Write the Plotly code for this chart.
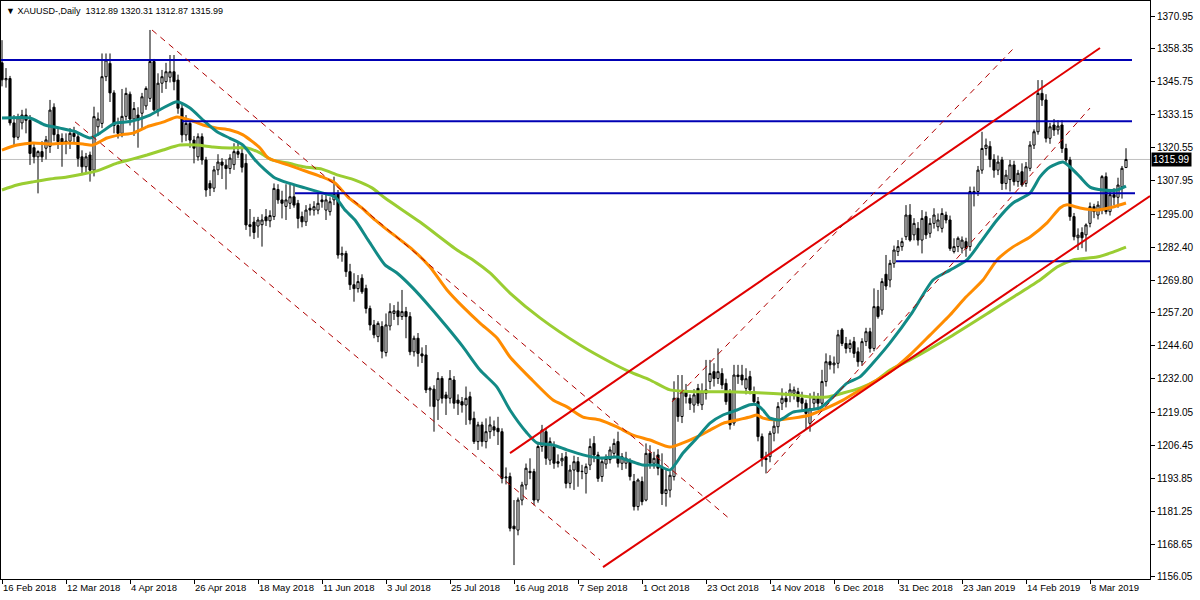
import plotly.graph_objects as go

# ---------------- data ----------------
open_ = [1353.0,1346.5,1347.0,1330.0,1324.5,1330.0,1333.0,1331.0,1320.5,1317.0,1319.0,1320.3,1321.0,1336.0,1325.5,1324.0,1323.0,1323.0,1326.0,1324.7,
1317.0,1313.2,1317.7,1311.9,1328.5,1329.8,1347.7,1352.8,1341.5,1329.0,1326.0,1332.5,1341.0,1331.5,1333.0,1333.7,1336.5,1339.4,1353.5,1335.0,
1345.2,1345.8,1347.5,1349.6,1346.4,1335.6,1325.4,1329.8,1323.4,1317.0,1324.7,1315.8,1306.8,1305.0,1312.0,1315.0,1313.8,1312.5,1314.0,1319.0,
1318.3,1314.5,1291.0,1292.0,1290.5,1291.0,1294.0,1292.5,1294.1,1304.5,1300.5,1298.0,1299.2,1301.7,1299.2,1294.1,1292.1,1297.3,1296.6,1296.6,
1300.5,1296.6,1296.0,1300.5,1303.0,1279.4,1280.0,1273.0,1268.0,1266.5,1270.5,1266.6,1258.9,1252.6,1248.1,1252.0,1242.0,1252.2,1257.0,1258.0,
1255.8,1257.7,1255.8,1242.3,1247.5,1241.5,1241.1,1227.7,1228.0,1223.8,1232.1,1225.8,1224.5,1231.5,1223.8,1223.2,1221.9,1225.1,1216.8,1207.9,
1214.3,1207.9,1211.7,1213.6,1213.0,1211.7,1194.0,1194.5,1175.5,1174.0,1185.5,1191.3,1196.5,1196.4,1185.5,1206.0,1211.7,1200.8,1206.0,1200.2,
1200.5,1202.1,1191.9,1197.0,1200.2,1196.4,1195.7,1198.9,1207.2,1202.8,1194.5,1199.3,1201.0,1203.4,1207.9,1199.6,1199.6,1200.2,1192.6,1183.0,
1192.6,1185.5,1203.4,1199.6,1202.8,1198.0,1188.0,1189.3,1194.5,1224.5,1217.5,1227.0,1224.5,1221.9,1228.3,1222.0,1226.4,1230.9,1234.7,1232.1,
1234.0,1230.2,1227.0,1215.0,1233.4,1233.4,1228.3,1232.8,1227.0,1223.2,1209.8,1201.5,1202.1,1211.1,1213.6,1222.6,1224.5,1225.8,1226.4,1227.0,
1224.5,1222.6,1214.9,1222.6,1224.5,1222.6,1230.9,1238.5,1237.3,1237.9,1250.7,1245.5,1243.6,1246.2,1242.3,1238.5,1246.2,1250.0,1243.6,1259.6,
1258.3,1272.0,1269.8,1276.2,1280.7,1282.6,1286.4,1294.7,1287.1,1289.6,1285.1,1294.1,1287.7,1291.5,1290.2,1289.6,1294.7,1292.8,1280.7,1282.6,
1282.0,1284.5,1282.6,1303.0,1303.7,1311.9,1320.2,1321.0,1316.0,1311.9,1315.8,1306.8,1308.3,1313.9,1307.5,1311.3,1306.8,1312.6,1321.5,1326.6,
1341.3,1338.8,1324.1,1329.2,1327.3,1329.2,1320.2,1315.8,1294.1,1286.0,1288.0,1287.1,1291.5,1297.9,1294.7,1296.5,1309.4,1296.0,1302.5,1301.5,
1305.5,1312.89]
high = [1361.7,1351.0,1348.0,1333.0,1333.5,1335.0,1335.5,1333.0,1322.0,1319.5,1323.0,1325.0,1338.8,1337.5,1328.0,1326.0,1326.0,1328.0,1328.5,1326.5,
1319.5,1318.5,1319.0,1336.2,1334.0,1356.6,1356.6,1356.6,1342.5,1332.0,1343.0,1343.5,1342.0,1338.0,1336.0,1341.5,1344.0,1365.6,1354.5,1349.0,
1350.3,1353.0,1356.0,1356.0,1348.5,1337.5,1333.0,1331.5,1325.0,1326.0,1326.0,1317.0,1308.0,1313.5,1318.0,1316.5,1316.0,1318.0,1322.2,1323.0,
1321.0,1318.0,1297.0,1294.0,1294.0,1295.0,1297.0,1296.5,1306.8,1306.5,1304.0,1306.5,1306.5,1306.5,1300.5,1296.0,1298.5,1299.0,1300.0,1303.7,
1302.5,1302.5,1301.5,1309.4,1304.3,1282.6,1281.0,1276.0,1272.4,1271.7,1272.0,1268.0,1260.0,1254.5,1254.0,1254.0,1257.0,1260.9,1260.2,1261.5,
1266.0,1259.5,1257.5,1248.5,1249.5,1244.0,1244.9,1229.0,1229.5,1234.5,1233.0,1227.0,1235.3,1233.0,1226.0,1225.0,1229.0,1227.0,1219.4,1215.5,
1215.5,1216.8,1217.5,1216.0,1217.4,1213.0,1198.0,1196.0,1185.5,1186.5,1192.5,1199.5,1201.5,1197.5,1207.5,1214.3,1213.0,1209.5,1208.0,1203.0,
1203.5,1204.0,1199.0,1202.5,1202.0,1199.0,1199.5,1209.1,1210.0,1204.0,1201.5,1203.0,1206.0,1209.0,1211.7,1203.5,1204.0,1201.5,1195.5,1193.8,
1194.5,1207.2,1206.5,1204.0,1205.0,1203.4,1197.0,1196.5,1231.0,1233.4,1233.4,1230.0,1226.0,1228.0,1230.0,1230.2,1239.2,1239.2,1237.9,1243.6,
1236.0,1232.0,1228.0,1237.3,1237.3,1237.3,1236.0,1235.0,1229.0,1225.0,1211.0,1204.0,1212.0,1216.0,1223.0,1228.3,1227.0,1230.2,1229.0,1228.5,
1227.0,1224.0,1226.4,1227.0,1226.5,1235.4,1241.7,1241.0,1240.5,1250.7,1251.4,1248.0,1247.0,1248.0,1244.0,1247.5,1251.5,1251.5,1266.6,1266.0,
1270.5,1279.4,1277.5,1283.0,1285.1,1286.0,1298.5,1298.9,1293.5,1292.0,1296.6,1296.0,1293.5,1297.3,1295.3,1297.3,1296.0,1294.5,1285.8,1286.5,
1286.5,1286.0,1305.6,1305.6,1313.5,1326.6,1324.0,1323.0,1318.0,1317.5,1317.0,1312.0,1315.8,1315.5,1312.0,1314.5,1315.0,1323.0,1327.5,1346.4,
1346.4,1341.0,1330.0,1331.5,1331.0,1331.0,1322.0,1317.0,1295.5,1289.6,1290.0,1291.5,1299.5,1299.0,1300.0,1310.0,1311.0,1304.0,1305.0,1309.0,
1313.5,1320.31]
low = [1344.0,1343.5,1329.0,1321.5,1323.5,1327.5,1326.0,1313.9,1314.5,1303.0,1315.0,1316.0,1318.5,1323.0,1320.0,1313.2,1318.0,1320.0,1322.0,1313.2,
1310.0,1311.0,1307.5,1309.5,1325.0,1328.0,1346.0,1338.0,1326.0,1324.0,1324.5,1331.0,1329.0,1325.0,1320.5,1328.0,1335.0,1338.0,1334.5,1332.5,
1341.5,1343.0,1345.5,1342.5,1333.5,1322.5,1323.0,1320.5,1314.5,1315.5,1314.0,1301.7,1302.0,1303.5,1310.0,1308.5,1304.5,1310.5,1312.0,1316.5,
1311.0,1289.0,1286.5,1285.5,1286.0,1282.6,1290.5,1290.0,1292.8,1299.0,1293.4,1292.8,1297.0,1297.5,1289.6,1290.0,1290.5,1294.5,1294.5,1295.0,
1297.5,1292.8,1294.5,1298.5,1278.0,1276.8,1271.0,1266.0,1261.5,1265.0,1264.5,1257.0,1250.5,1247.5,1246.0,1239.8,1240.5,1250.5,1254.5,1252.5,
1254.5,1247.5,1241.0,1240.5,1236.6,1238.0,1226.5,1221.3,1211.7,1216.2,1222.5,1218.1,1222.5,1220.5,1218.1,1219.0,1214.3,1214.5,1207.0,1204.7,
1206.0,1205.3,1209.0,1210.0,1206.6,1191.9,1191.5,1173.5,1160.6,1172.0,1183.5,1189.5,1193.5,1183.5,1184.5,1204.0,1199.0,1199.0,1197.5,1198.0,
1198.5,1190.0,1190.0,1189.4,1190.6,1193.5,1188.0,1197.0,1200.0,1192.5,1192.5,1197.5,1199.5,1202.0,1198.0,1197.0,1197.5,1193.0,1181.5,1181.5,
1183.5,1185.0,1197.5,1197.5,1195.0,1183.6,1183.0,1186.5,1193.0,1215.5,1215.0,1222.5,1220.0,1219.0,1221.5,1220.0,1224.0,1228.0,1229.0,1230.0,
1228.0,1222.0,1212.5,1214.0,1230.0,1229.5,1226.0,1226.0,1222.5,1208.0,1198.3,1195.7,1200.0,1208.0,1211.0,1220.0,1221.0,1223.0,1224.0,1221.0,
1219.5,1212.5,1211.7,1220.0,1220.0,1221.0,1229.0,1235.5,1234.0,1236.0,1244.5,1241.7,1242.0,1240.0,1236.6,1237.0,1244.5,1242.0,1242.5,1255.0,
1256.5,1266.0,1267.0,1274.5,1279.0,1281.0,1285.1,1284.5,1285.0,1283.0,1280.0,1285.5,1286.0,1289.5,1288.5,1288.0,1291.5,1281.0,1280.0,1280.5,
1280.0,1278.7,1281.0,1298.0,1302.0,1310.5,1317.5,1313.0,1309.0,1310.0,1304.3,1304.5,1303.7,1306.0,1305.5,1305.5,1305.5,1311.5,1320.0,1325.5,
1336.5,1322.5,1322.0,1325.0,1325.5,1318.5,1314.0,1292.5,1285.0,1281.3,1282.0,1280.7,1290.0,1293.5,1293.0,1295.0,1295.0,1294.5,1298.5,1297.5,
1301.0,1312.87]
close = [1346.5,1347.0,1330.0,1324.5,1332.0,1333.0,1331.0,1318.3,1317.0,1319.0,1317.0,1323.5,1334.9,1325.5,1322.8,1322.0,1322.5,1326.0,1324.8,1316.4,
1313.2,1317.0,1311.9,1332.4,1331.5,1347.7,1354.1,1341.5,1329.0,1326.0,1332.5,1341.3,1331.5,1335.5,1331.0,1340.0,1343.2,1353.5,1335.0,1345.2,
1347.7,1349.6,1349.6,1345.8,1335.6,1325.4,1329.8,1323.4,1320.3,1324.7,1315.8,1304.3,1305.0,1312.0,1315.0,1313.8,1312.5,1316.5,1319.0,1318.0,
1313.0,1290.9,1290.3,1288.0,1292.8,1292.8,1292.5,1294.5,1304.9,1300.5,1299.2,1300.5,1301.7,1298.5,1293.4,1292.1,1296.6,1296.6,1297.9,1299.2,
1299.8,1300.5,1299.8,1302.9,1279.4,1280.0,1273.0,1268.0,1266.5,1269.2,1265.3,1258.9,1252.6,1248.8,1253.2,1242.5,1252.6,1257.7,1258.0,1255.8,
1257.7,1255.8,1242.3,1247.5,1241.7,1240.7,1227.7,1228.3,1221.3,1232.1,1224.5,1224.5,1232.1,1222.6,1222.6,1221.9,1224.5,1216.2,1207.9,1214.3,
1207.9,1211.7,1214.3,1212.3,1211.7,1193.8,1194.3,1174.7,1174.5,1185.5,1191.3,1197.7,1196.0,1185.5,1206.0,1212.3,1201.5,1207.9,1199.6,1199.6,
1201.5,1191.9,1197.0,1200.2,1196.4,1196.5,1198.3,1206.0,1202.8,1193.8,1200.2,1201.5,1204.7,1207.2,1199.6,1202.1,1201.5,1194.5,1183.0,1193.2,
1184.9,1203.4,1199.6,1201.5,1197.7,1188.0,1189.5,1195.0,1224.5,1217.5,1227.0,1225.2,1222.6,1225.8,1222.6,1227.0,1227.7,1234.0,1232.1,1234.7,
1229.6,1223.2,1214.3,1233.4,1232.8,1231.5,1232.0,1227.7,1223.2,1209.8,1201.5,1201.0,1211.1,1213.8,1221.3,1224.5,1223.2,1227.7,1227.7,1223.2,
1222.6,1218.7,1220.6,1224.5,1222.6,1230.9,1238.5,1237.3,1238.0,1248.8,1245.5,1243.6,1245.5,1241.7,1238.5,1246.2,1250.0,1243.6,1259.6,1255.8,
1269.2,1267.5,1276.2,1281.3,1282.6,1284.5,1294.7,1285.1,1291.5,1285.1,1293.4,1287.1,1291.5,1294.7,1292.8,1295.3,1292.8,1281.9,1282.6,1285.8,
1285.1,1281.9,1303.7,1303.7,1311.9,1320.2,1321.5,1316.0,1311.9,1315.0,1306.8,1310.0,1313.9,1307.5,1310.7,1306.2,1313.2,1321.5,1326.6,1341.3,
1338.8,1324.1,1328.5,1327.3,1328.8,1320.2,1315.8,1294.1,1286.4,1287.0,1286.0,1290.9,1297.9,1296.0,1298.5,1309.4,1296.0,1302.5,1301.5,1306.2,
1312.6,1315.99]

# moving averages read at sample bars
ma_fast_bars = [0,7,10.75,14.5,18.25,22,24.5,28.25,32,37,40.25,43.75,47,50.25,53.75,57,60.25,63.25,65.75,68.25,71.5,75.75,80,83.25,85.75,88.25,
 91.5,95.75,98.75,102.75,107,111.25,115.25,119.5,123.75,127,131.25,133.75,137.75,141.25,145.25,149.5,153.75,157.75,160.25,163.75,167,170.25,
 173.75,177,180.25,183.75,187,188.75,190.25,192,194.5,197.75,201.25,204.5,207.75,211.25,214.5,217.75,222,227.5,232.75,237,241.25,244.5,248.75,
 252.75,257,259.5,262,265.25,267,269.5,272,275.25,278.75,281]
ma_fast_vals = [1331.9,1331.9,1329.2,1328.0,1326.7,1324.2,1326.1,1329.9,1330.5,1333.0,1335.7,1338.1,1335.7,1331.1,1326.6,1324.1,1321.5,1315.8,
 1312.0,1308.9,1307.0,1305.1,1303.2,1301.6,1296.6,1292.8,1285.2,1275.6,1272.5,1266.7,1259.5,1251.8,1244.2,1235.3,1228.8,1220.0,1211.2,1207.4,
 1206.6,1204.7,1202.8,1201.6,1202.0,1200.1,1198.9,1198.9,1197.0,1203.5,1209.3,1215.0,1218.1,1220.0,1222.0,1222.0,1220.0,1216.9,1216.2,1219.2,
 1220.0,1220.8,1225.0,1230.3,1232.7,1238.0,1245.7,1257.2,1269.8,1273.6,1277.5,1284.0,1292.8,1299.3,1303.1,1309.3,1313.1,1315.0,1313.1,1309.3,
 1305.4,1304.3,1304.3,1305.8]
ma_mid_bars = [0,3.75,7.75,12,16.25,20.25,22.75,26.25,29.5,32.75,36.25,40.25,43.75,47,50.25,53.75,57,60.25,64.5,66.5,71.5,76.5,80,83.25,86.5,90,
 93.25,95.75,102.75,107,111.25,115.25,119.5,123.75,127,132,137.75,141.25,145.25,149.5,153.75,157.75,162,167,170.25,173.75,177,180.25,183.75,
 187,188.75,190.25,193.75,197.75,202,206.25,210.25,214.5,218.75,222,227,232,237,240.75,245.25,248.75,252.75,257,261.25,264.5,266.25,269.5,
 273.75,277.75,281]
ma_mid_vals = [1319.6,1321.5,1322.3,1321.9,1322.3,1321.9,1321.5,1324.2,1325.4,1326.1,1328.5,1330.3,1332.3,1331.1,1329.2,1328.0,1327.3,1325.4,
 1320.4,1316.6,1313.9,1311.2,1309.3,1307.0,1301.6,1297.4,1292.8,1289.7,1281.3,1274.8,1266.0,1259.5,1253.3,1247.6,1240.3,1232.3,1223.8,1221.2,
 1217.3,1216.2,1213.5,1210.4,1208.5,1205.8,1207.4,1209.7,1212.3,1214.9,1216.2,1217.3,1218.1,1216.9,1216.2,1216.9,1218.1,1220.8,1223.8,1227.7,
 1231.5,1234.6,1241.1,1248.7,1256.4,1262.9,1269.8,1277.5,1282.5,1286.3,1291.7,1297.4,1298.6,1297.4,1296.6,1297.8,1299.3]
ma_slow_bars = [0,3.75,7.75,12,16.25,20.25,24.5,28.75,32.75,36.25,40.25,44.5,48.75,52.75,57,61.25,64.5,67.5,71.5,75.75,80,84,88.25,92.5,95.75,
 104.5,113.75,117.75,122,127,134.5,144.5,152,157,162,167,173.75,182,190.25,197.75,202,206.25,210.25,214.5,218.75,222,227,237,247,253.25,
 259.5,263.75,267.75,273.75,277.75,281]
ma_slow_vals = [1304.3,1306.2,1307.4,1308.5,1309.3,1310.4,1312.0,1314.6,1316.2,1317.7,1319.6,1321.5,1321.5,1320.8,1320.4,1320.4,1318.5,1315.8,
 1314.6,1313.1,1312.3,1310.0,1308.1,1305.1,1301.2,1292.0,1281.3,1277.5,1272.5,1264.8,1255.3,1244.9,1238.4,1234.6,1231.5,1227.7,1227.0,1227.0,
 1226.5,1225.8,1225.0,1225.0,1226.5,1228.4,1231.5,1235.3,1239.2,1248.0,1257.6,1263.7,1269.8,1274.8,1277.5,1278.6,1280.5,1282.4]

# horizontal levels: price, start bar, end bar
level_prices = [1354.1, 1330.6, 1303.0, 1277.0]
level_start = [-0.5, 45.0, 73.25, 223.5]
level_end = [282.5, 282.5, 283.25, 287.0]

# trend lines: (bar0, price0, bar1, price1)
solid_lines = [(127.0, 1203.5, 274.5, 1358.7), (150.25, 1159.8, 287.0, 1302.0)]
dashed_lines = [(37.5, 1365.6, 182.0, 1178.2), (18.25, 1330.4, 149.5, 1162.6),
                (167.5, 1223.1, 253.25, 1359.1), (191.25, 1195.9, 272.0, 1335.7)]

tick_bars = [0, 16, 32, 48, 64, 80, 96, 112, 128, 144, 160, 176, 192, 208, 224, 240, 256, 272]
tick_labels = ["16 Feb 2018", "12 Mar 2018", "4 Apr 2018", "26 Apr 2018", "18 May 2018", "11 Jun 2018",
               "3 Jul 2018", "25 Jul 2018", "16 Aug 2018", "7 Sep 2018", "1 Oct 2018", "23 Oct 2018",
               "14 Nov 2018", "6 Dec 2018", "31 Dec 2018", "23 Jan 2019", "14 Feb 2019", "8 Mar 2019"]
price_ticks = [1370.95, 1358.35, 1345.75, 1333.15, 1320.55, 1307.95, 1295.00, 1282.40, 1269.80, 1257.20,
               1244.60, 1232.00, 1219.05, 1206.45, 1193.85, 1181.25, 1168.65, 1156.05]
price_tick_text = ["1370.95", "1358.35", "1345.75", "1333.15", "1320.55", "1307.95", "1295.00", "1282.40",
                   "1269.80", "1257.20", "1244.60", "1232.00", "1219.05", "1206.45", "1193.85", "1181.25",
                   "1168.65", "1156.05"]
last_price = 1315.99
header = "▼ XAUUSD-,Daily  1312.89 1320.31 1312.87 1315.99"

# ---------------- figure ----------------
bars = list(range(len(close)))
fig = go.Figure()

fig.add_trace(go.Candlestick(
    x=bars, open=open_, high=high, low=low, close=close,
    increasing=dict(line=dict(color="black", width=1), fillcolor="white"),
    decreasing=dict(line=dict(color="black", width=1), fillcolor="black"),
    whiskerwidth=0, hoverinfo="skip"))

for bx, vals, col in [(ma_slow_bars, ma_slow_vals, "#9ACD32"),
                      (ma_mid_bars, ma_mid_vals, "#FF8C00"),
                      (ma_fast_bars, ma_fast_vals, "#128A86")]:
    fig.add_trace(go.Scatter(x=bx, y=vals, mode="lines",
                             line=dict(color=col, width=3, shape="spline", smoothing=0.6),
                             hoverinfo="skip"))

shapes = []
shapes.append(dict(type="line", xref="paper", x0=0, x1=1, yref="y", y0=last_price, y1=last_price,
                   line=dict(color="#C0C0C0", width=1), layer="below"))
for p, s, e in zip(level_prices, level_start, level_end):
    shapes.append(dict(type="line", xref="x", yref="y", x0=s, x1=e, y0=p, y1=p,
                       line=dict(color="#0000B4", width=2)))
for b0, p0, b1, p1 in solid_lines:
    shapes.append(dict(type="line", xref="x", yref="y", x0=b0, y0=p0, x1=b1, y1=p1,
                       line=dict(color="#E00000", width=2)))
for b0, p0, b1, p1 in dashed_lines:
    shapes.append(dict(type="line", xref="x", yref="y", x0=b0, y0=p0, x1=b1, y1=p1,
                       line=dict(color="#B00000", width=1, dash="6px,5px")))

annotations = [
    dict(xref="paper", yref="paper", x=0, y=1, xanchor="left", yanchor="top", xshift=3, yshift=-3,
         text=header, showarrow=False, font=dict(family="Liberation Sans", size=9, color="black")),
    dict(xref="paper", yref="y", x=1, y=last_price, xanchor="left", yanchor="middle", xshift=1,
         text=str(last_price), showarrow=False, bgcolor="black", borderpad=1,
         font=dict(family="Liberation Sans", size=10, color="white")),
]

fig.update_layout(
    width=1200, height=600, margin=dict(l=1, r=50, t=1, b=21),
    paper_bgcolor="white", plot_bgcolor="white", showlegend=False,
    boxgap=0.25, hovermode=False,
    shapes=shapes, annotations=annotations,
    xaxis=dict(range=[-0.25, 287], tickvals=tick_bars, ticktext=tick_labels, ticks="outside", ticklen=4,
               tickcolor="black", showgrid=False, zeroline=False, showline=True, linecolor="black",
               linewidth=1, mirror=True, rangeslider=dict(visible=False), ticklabelposition="outside right",
               tickfont=dict(family="Liberation Sans", size=9.5, color="black")),
    yaxis=dict(side="right", range=[1155.26, 1376.70], tickvals=price_ticks, ticktext=price_tick_text,
               ticks="outside", ticklen=4, tickcolor="black", showgrid=False, zeroline=False,
               showline=True, linecolor="black", linewidth=1, mirror=True,
               tickfont=dict(family="Liberation Sans", size=10, color="black")),
)

fig.write_html("out.html", config={"displayModeBar": False},
               post_script="document.body.style.margin='0px';document.body.style.overflow='hidden';")
